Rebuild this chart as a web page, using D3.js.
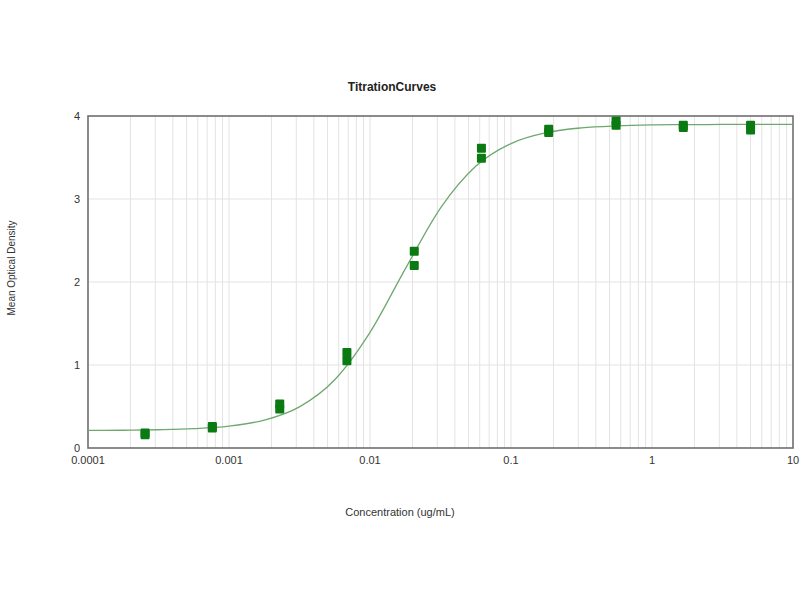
<!DOCTYPE html>
<html><head><meta charset="utf-8">
<script src="https://cdn.jsdelivr.net/npm/d3@7"></script>
<style>body{margin:0;background:#fff;font-family:"Liberation Sans",Arial,sans-serif;}</style>
</head><body>
<svg id="c" width="800" height="600"></svg>
<script>
const concentrations = [0.000254, 0.000254, 0.000762, 0.000762, 0.00229, 0.00229, 0.00686, 0.00686, 0.0206, 0.0206, 0.0617, 0.0617, 0.185, 0.185, 0.556, 0.556, 1.667, 1.667, 5, 5];
const odValues = [0.16, 0.18, 0.24, 0.26, 0.47, 0.53, 1.05, 1.15, 2.20, 2.37, 3.49, 3.61, 3.80, 3.84, 3.89, 3.94, 3.86, 3.89, 3.83, 3.89];
const curveX = [0.0001, 0.000178, 0.000316, 0.000562, 0.001, 0.00178, 0.00316, 0.00562, 0.01, 0.0178, 0.0316, 0.0562, 0.1, 0.178, 0.316, 0.562, 1, 1.78, 3.16, 5.62, 10];
const curveY = [0.212, 0.214, 0.220, 0.233, 0.264, 0.336, 0.496, 0.822, 1.393, 2.158, 2.890, 3.394, 3.668, 3.799, 3.857, 3.881, 3.892, 3.896, 3.898, 3.899, 3.900];
const xTickLabels = ["0.0001", "0.001", "0.01", "0.1", "1", "10"];
const yTicks = [0, 1, 2, 3, 4];

const svg = d3.select("#c");
const L = 88, R = 793, T = 116, B = 448;
const x = d3.scaleLog().domain([1e-4, 10]).range([L, R]);
const y = d3.scaleLinear().domain([0, 4]).range([B, T]);

// vertical grid (log minor + major)
const vgrid = [];
for (let e = -4; e < 1; e++) for (let m = 1; m <= 9; m++) vgrid.push(m * Math.pow(10, e));
svg.append("g").selectAll("line").data(vgrid.filter(v => v > 1e-4 * 1.001)).join("line")
  .attr("x1", d => x(d)).attr("x2", d => x(d)).attr("y1", T).attr("y2", B)
  .attr("stroke", "#e3e3e3").attr("stroke-width", 1);
svg.append("g").selectAll("line").data(yTicks.slice(1, 4)).join("line")
  .attr("x1", L).attr("x2", R).attr("y1", d => y(d)).attr("y2", d => y(d))
  .attr("stroke", "#e3e3e3").attr("stroke-width", 1);

// frame
svg.append("rect").attr("x", L).attr("y", T).attr("width", R - L).attr("height", B - T)
  .attr("fill", "none").attr("stroke", "#6e6e6e").attr("stroke-width", 1.6);

// y tick labels
svg.append("g").selectAll("text").data(yTicks).join("text")
  .attr("x", L - 8).attr("y", d => y(d) + 4).attr("text-anchor", "end")
  .attr("font-size", 11).attr("fill", "#333").text(d => d);
// x tick labels
const xTickVals = [1e-4, 1e-3, 1e-2, 1e-1, 1, 10];
svg.append("g").selectAll("text").data(xTickVals).join("text")
  .attr("x", d => x(d)).attr("y", B + 16).attr("text-anchor", "middle")
  .attr("font-size", 11).attr("fill", "#333").text((d, i) => xTickLabels[i]);

// curve
const line = d3.line().x(d => x(d[0])).y(d => y(d[1])).curve(d3.curveMonotoneX);
svg.append("path").datum(curveX.map((v, i) => [v, curveY[i]]))
  .attr("d", line).attr("fill", "none").attr("stroke", "#6fa86f").attr("stroke-width", 1.3);

// points
svg.append("g").selectAll("rect").data(concentrations.map((c, i) => [c, odValues[i]])).join("rect")
  .attr("x", d => x(d[0]) - 4.5).attr("y", d => y(d[1]) - 4.5)
  .attr("width", 9).attr("height", 9).attr("rx", 1)
  .attr("fill", "#0b7a12");

// titles
svg.append("text").attr("x", 392).attr("y", 91).attr("text-anchor", "middle")
  .attr("font-size", 12).attr("font-weight", "bold").attr("fill", "#222").text("TitrationCurves");
svg.append("text").attr("x", 400).attr("y", 516).attr("text-anchor", "middle")
  .attr("font-size", 11).attr("fill", "#333").text("Concentration (ug/mL)");
svg.append("text").attr("transform", "translate(15,268) rotate(-90)").attr("text-anchor", "middle")
  .attr("font-size", 10).attr("fill", "#333").text("Mean Optical Density");
</script>
</body></html>
